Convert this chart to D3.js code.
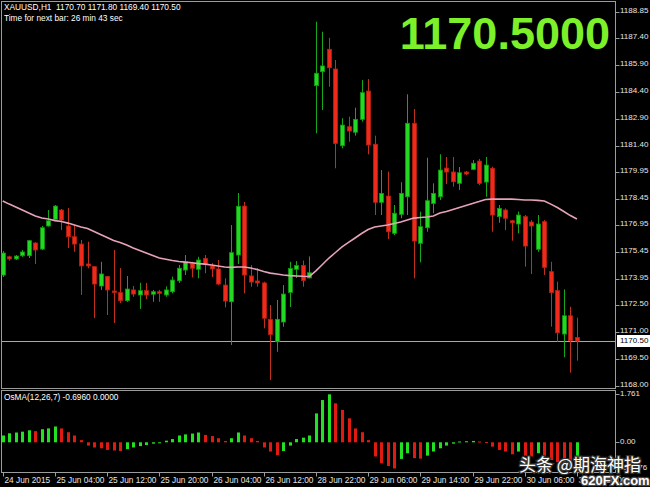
<!DOCTYPE html>
<html><head><meta charset="utf-8">
<script src="https://cdn.jsdelivr.net/npm/d3@7"></script>
<style>html,body{margin:0;padding:0;background:#000;overflow:hidden}</style>
</head><body><svg id="c" width="650" height="487"></svg>
<script>
const symbolTitle = "XAUUSD,H1  1170.70 1171.80 1169.40 1170.50";
const timerText = "Time for next bar: 26 min 43 sec";
const bigPrice = "1170.5000";
const oscTitle = "OsMA(12,26,7) -0.6960 0.0000";
const lastPrice = 1170.50;
const oscTopLabel = "1.761";
const oscZeroLabel = "0.00";
const oscBottomLabel = "-0.9576";

const opens = [1174.18,1175.20,1175.08,1175.26,1175.26,1175.97,1175.63,1176.92,1177.29,1177.81,1176.92,1176.32,1175.91,1174.80,1174.65,1173.57,1174.10,1173.29,1173.20,1172.75,1173.35,1173.07,1173.31,1173.11,1173.25,1173.07,1173.25,1173.86,1174.46,1174.84,1174.50,1175.11,1174.69,1174.52,1173.62,1172.69,1175.30,1178.03,1174.13,1173.85,1173.74,1171.71,1170.46,1171.56,1173.21,1174.50,1174.71,1174.02,1184.75,1185.53,1186.78,1185.68,1181.40,1182.46,1182.15,1182.87,1184.45,1181.48,1178.24,1178.59,1176.51,1177.57,1178.55,1182.65,1175.95,1176.82,1178.18,1178.55,1180.15,1179.93,1179.30,1179.93,1180.08,1180.54,1179.37,1180.14,1177.44,1177.81,1177.21,1177.03,1177.44,1177.14,1175.62,1177.16,1174.37,1173.31,1170.89,1171.91,1170.70];
const highs = [1175.52,1175.26,1175.30,1175.58,1176.14,1176.02,1176.92,1177.81,1178.09,1177.87,1177.92,1176.97,1176.14,1176.04,1174.65,1174.92,1174.13,1175.58,1174.57,1174.13,1173.57,1173.75,1173.74,1173.35,1173.35,1173.55,1174.09,1174.74,1175.30,1174.92,1175.20,1175.30,1174.85,1175.02,1174.00,1176.97,1178.76,1178.26,1174.74,1174.57,1173.81,1172.51,1172.79,1173.62,1174.92,1174.96,1174.99,1175.22,1188.32,1187.76,1187.42,1186.18,1182.93,1183.02,1183.52,1185.06,1185.12,1181.96,1180.04,1179.95,1178.09,1179.36,1184.27,1183.45,1177.72,1180.73,1179.30,1180.92,1180.77,1180.77,1180.21,1179.99,1180.60,1180.66,1180.77,1180.23,1178.09,1177.90,1177.25,1177.72,1177.53,1177.25,1177.53,1177.25,1174.92,1173.81,1173.38,1172.41,1171.80];
const lows = [1174.07,1174.98,1175.02,1175.19,1175.13,1174.80,1175.58,1176.88,1177.25,1176.69,1175.69,1175.48,1173.07,1174.56,1171.78,1173.35,1171.95,1171.50,1172.62,1172.68,1172.97,1172.29,1172.84,1172.69,1172.69,1172.97,1173.16,1173.74,1174.18,1174.05,1174.00,1174.28,1174.07,1173.62,1172.38,1170.28,1174.80,1173.16,1173.53,1173.53,1171.21,1168.32,1169.90,1171.30,1172.40,1174.02,1173.53,1174.00,1182.09,1183.39,1184.69,1180.14,1181.25,1181.62,1181.96,1182.74,1180.92,1177.53,1177.53,1176.19,1176.41,1177.35,1177.53,1174.00,1174.89,1176.60,1177.63,1178.37,1179.26,1179.11,1178.93,1179.76,1180.04,1179.20,1178.55,1176.60,1177.10,1176.69,1176.10,1176.51,1174.65,1174.24,1175.48,1174.18,1171.30,1170.46,1169.59,1168.73,1169.40];
const closes = [1175.41,1175.08,1175.24,1175.47,1176.10,1175.58,1176.82,1177.21,1178.03,1177.25,1176.32,1175.91,1174.69,1174.69,1173.68,1174.24,1173.35,1173.21,1172.75,1173.40,1173.12,1173.31,1173.07,1173.25,1173.16,1173.35,1173.90,1174.56,1174.92,1174.56,1175.02,1174.80,1174.52,1173.68,1172.73,1175.43,1178.02,1174.18,1173.79,1173.74,1171.77,1170.86,1171.71,1173.12,1174.55,1174.71,1173.88,1174.31,1185.44,1185.85,1185.75,1181.53,1182.55,1182.22,1182.87,1184.36,1181.44,1178.24,1178.74,1176.60,1177.63,1178.74,1182.65,1176.08,1176.88,1178.33,1178.74,1180.04,1179.93,1179.39,1179.89,1179.82,1180.42,1179.30,1180.32,1177.53,1177.90,1177.35,1177.10,1177.53,1175.80,1176.92,1177.03,1174.61,1173.20,1170.96,1171.91,1170.52,1170.50];
const maValues = [1178.31,1178.14,1177.98,1177.81,1177.64,1177.48,1177.36,1177.31,1177.22,1177.17,1177.08,1176.97,1176.86,1176.78,1176.61,1176.44,1176.28,1176.11,1176.00,1175.86,1175.69,1175.55,1175.41,1175.27,1175.13,1175.06,1174.99,1174.94,1174.90,1174.87,1174.82,1174.79,1174.74,1174.69,1174.63,1174.61,1174.63,1174.63,1174.57,1174.49,1174.38,1174.29,1174.24,1174.18,1174.15,1174.13,1174.11,1174.10,1174.41,1174.77,1175.13,1175.44,1175.75,1176.00,1176.25,1176.50,1176.72,1176.86,1176.92,1176.97,1177.06,1177.14,1177.25,1177.36,1177.39,1177.42,1177.48,1177.64,1177.73,1177.84,1177.95,1178.06,1178.17,1178.28,1178.40,1178.42,1178.42,1178.42,1178.42,1178.40,1178.37,1178.37,1178.35,1178.31,1178.14,1177.95,1177.73,1177.50,1177.31];
const osmaValues = [0.25,0.33,0.36,0.39,0.44,0.41,0.48,0.51,0.58,0.51,0.37,0.25,0.08,-0.12,-0.19,-0.22,-0.28,-0.30,-0.32,-0.25,-0.19,-0.14,-0.10,-0.05,-0.03,0.06,0.12,0.25,0.29,0.32,0.36,0.27,0.23,0.15,0.05,0.15,0.36,0.25,0.15,0.05,-0.19,-0.34,-0.47,-0.32,-0.12,0.12,0.17,0.25,1.06,1.55,1.76,1.43,1.19,0.88,0.51,0.37,0.08,-0.52,-0.77,-0.87,-0.96,-0.61,-0.40,-0.58,-0.60,-0.49,-0.34,-0.22,-0.12,-0.05,0.03,0.04,0.05,0.03,0.01,-0.16,-0.28,-0.34,-0.44,-0.34,-0.49,-0.52,-0.40,-0.52,-0.65,-0.73,-0.83,-0.89,-0.696];
const priceTicks = [1188.85,1187.40,1185.90,1184.40,1182.90,1181.40,1179.95,1178.45,1176.95,1175.45,1173.95,1172.50,1171.00,1169.50,1168.00];
const timeLabels = ["24 Jun 2015","25 Jun 04:00","25 Jun 12:00","25 Jun 20:00","26 Jun 04:00","26 Jun 12:00","28 Jun 22:00","29 Jun 06:00","29 Jun 14:00","29 Jun 22:00","30 Jun 06:00","30 Jun 14:00"];
const barsPerLabel = 8;
const watermark = "头条 @期海神指";
const site = "620FX.com";

const svg = d3.select("#c");
const FONT = "'Liberation Sans', Arial, sans-serif";
svg.append("rect").attr("width",650).attr("height",487).attr("fill","#000");

const N = opens.length;
const x = d3.scaleLinear().domain([0, N-1]).range([2.7, 576.9]);
const y = d3.scaleLinear().domain([1168, 1188.85]).range([385.8, 12.2]);
const yo = d3.scaleLinear().domain([0, 1.761]).range([442.3, 394.3]);

const mainL = 1.5, mainR = 615.5, mainT = 1.5, mainB = 388.5;
const oscT = 390.5, oscB = 472.5;
const frameCol = "#9c9c9c";

svg.append("defs").append("clipPath").attr("id","clipMain")
  .append("rect").attr("x",mainL).attr("y",mainT).attr("width",mainR-mainL).attr("height",mainB-mainT);
svg.select("defs").append("clipPath").attr("id","clipOsc")
  .append("rect").attr("x",mainL).attr("y",oscT).attr("width",mainR-mainL).attr("height",oscB-oscT);

// frames
svg.append("rect").attr("x",mainL).attr("y",mainT).attr("width",mainR-mainL).attr("height",mainB-mainT)
  .attr("fill","none").attr("stroke",frameCol).attr("stroke-width",1);
svg.append("rect").attr("x",mainL).attr("y",oscT).attr("width",mainR-mainL).attr("height",oscB-oscT)
  .attr("fill","none").attr("stroke",frameCol).attr("stroke-width",1);

const gMain = svg.append("g").attr("clip-path","url(#clipMain)");

// price line
gMain.append("line").attr("x1",mainL).attr("x2",mainR)
  .attr("y1",Math.round(y(lastPrice))+0.5).attr("y2",Math.round(y(lastPrice))+0.5)
  .attr("stroke","#a8a8a8").attr("stroke-width",1);

// candles
const idx = d3.range(N);
const bull = i => closes[i] >= opens[i];
gMain.selectAll("line.wick").data(idx).join("line").attr("class","wick")
  .attr("x1",i=>Math.round(x(i))+0.5).attr("x2",i=>Math.round(x(i))+0.5)
  .attr("y1",i=>y(highs[i])).attr("y2",i=>y(lows[i]))
  .attr("stroke",i=>bull(i)?"#17a817":"#c0301a").attr("stroke-width",1);
gMain.selectAll("rect.body").data(idx).join("rect").attr("class","body")
  .attr("x",i=>Math.round(x(i))-1.5).attr("width",4)
  .attr("y",i=>y(Math.max(opens[i],closes[i])))
  .attr("height",i=>Math.max(1.2, Math.abs(y(opens[i])-y(closes[i]))))
  .attr("fill",i=>bull(i)?"#22d822":"#f02a1a")
  .attr("stroke",i=>bull(i)?"#0f9a0f":"#b82010").attr("stroke-width",0.8);

// MA line
gMain.append("path").datum(maValues)
  .attr("d", d3.line().x((d,i)=>x(i)).y(d=>y(d)))
  .attr("fill","none").attr("stroke","#e6a2bc").attr("stroke-width",1.6);

// Osc histogram
const gOsc = svg.append("g").attr("clip-path","url(#clipOsc)");
gOsc.selectAll("rect").data(osmaValues).join("rect")
  .attr("x",(d,i)=>Math.round(x(i))-1).attr("width",3)
  .attr("y",d=>Math.min(yo(0),yo(d)))
  .attr("height",d=>Math.max(1,Math.abs(yo(d)-yo(0))))
  .attr("fill",(d,i)=> (i===0 || d>=osmaValues[i-1]) ? "#22e022" : "#e01a10");

// right price axis
const axG = svg.append("g");
priceTicks.forEach(p=>{
  const yy = Math.round(y(p))+0.5;
  axG.append("line").attr("x1",mainR).attr("x2",mainR+4).attr("y1",yy).attr("y2",yy).attr("stroke",frameCol);
  axG.append("text").attr("x",620).attr("y",yy-1.5).attr("dominant-baseline","middle")
    .attr("font-family",FONT).attr("font-size",8).attr("fill","#e6e6e6").text(p.toFixed(2));
});
const lpY = y(lastPrice);
axG.append("rect").attr("x",617).attr("y",lpY-6).attr("width",33).attr("height",12).attr("fill","#fff");
axG.append("text").attr("x",620).attr("y",lpY).attr("dominant-baseline","middle")
  .attr("font-family",FONT).attr("font-size",8).attr("fill","#000").text(lastPrice.toFixed(2));

// osc axis
[[1.761,oscTopLabel],[0,oscZeroLabel],[-0.9576,oscBottomLabel]].forEach(([v,t])=>{
  const yy = Math.round(yo(v))+0.5;
  axG.append("line").attr("x1",mainR).attr("x2",mainR+4).attr("y1",yy).attr("y2",yy).attr("stroke",frameCol);
  axG.append("text").attr("x",620).attr("y",yy-1).attr("dominant-baseline","middle")
    .attr("font-family",FONT).attr("font-size",8).attr("fill","#e6e6e6").text(t);
});

// time axis
timeLabels.forEach((t,k)=>{
  const xx = Math.round(x(k*barsPerLabel))+0.5;
  axG.append("line").attr("x1",xx).attr("x2",xx).attr("y1",oscB).attr("y2",oscB+4).attr("stroke",frameCol);
  axG.append("text").attr("x",xx+1).attr("y",483).attr("font-family",FONT).attr("font-size",8.3)
    .attr("fill","#e6e6e6").text(t);
});

// titles
svg.append("text").attr("x",4).attr("y",10).attr("font-family",FONT).attr("font-size",8.3).attr("fill","#fff").attr("xml:space","preserve").style("white-space","pre").text(symbolTitle);
svg.append("text").attr("x",4).attr("y",21).attr("font-family",FONT).attr("font-size",8.3).attr("fill","#fff").text(timerText);
svg.append("text").attr("x",4).attr("y",400).attr("font-family",FONT).attr("font-size",8.3).attr("fill","#fff").text(oscTitle);
svg.append("text").attr("x",610).attr("y",48.5).attr("text-anchor","end").attr("font-family",FONT)
  .attr("font-weight","bold").attr("font-size",45).attr("fill","#7cf028").text(bigPrice);

// watermark
svg.append("text").attr("x",519).attr("y",471).attr("font-family","'Noto Sans CJK SC', sans-serif")
  .attr("font-size",17).attr("fill","#fff").attr("stroke","#333").attr("stroke-width",2.5)
  .attr("paint-order","stroke").text(watermark);
svg.append("text").attr("x",581).attr("y",485).attr("font-family",FONT).attr("font-weight","bold")
  .attr("font-size",13).attr("fill","#fff").attr("stroke","#444").attr("stroke-width",2.5)
  .attr("paint-order","stroke").text(site);
</script></body></html>
